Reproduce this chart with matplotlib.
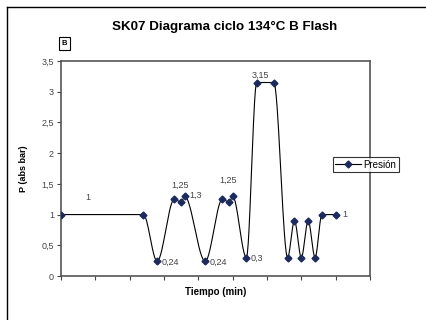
import numpy as np
import matplotlib
matplotlib.use("Agg")
import matplotlib.pyplot as plt
from matplotlib.lines import Line2D

plt.rcParams['font.family'] = ['Liberation Sans', 'DejaVu Sans']

# Tiempo (min) and presion (abs bar)
tiempo = [0, 2.4, 2.8, 3.3, 3.5, 3.6, 4.2, 4.7, 4.9, 5.0, 5.4, 5.7, 6.2,
          6.6, 6.8, 7.0, 7.2, 7.4, 7.6, 8.0]
presion = [1, 1, 0.24, 1.25, 1.2, 1.3, 0.24, 1.25, 1.2, 1.3, 0.3, 3.15, 3.15,
           0.3, 0.9, 0.3, 0.9, 0.3, 1, 1]

# data labels: (text, x, y)
etiquetas = [("1", 0.72, 1.27), ("0,24", 2.93, 0.22), ("1,25", 3.2, 1.48),
             ("1,3", 3.75, 1.32), ("0,24", 4.34, 0.22), ("1,25", 4.6, 1.55),
             ("0,3", 5.52, 0.28), ("3,15", 5.56, 3.27), ("1", 8.2, 1.0)]

yticks = [0, 0.5, 1, 1.5, 2, 2.5, 3, 3.5]
ytick_labels = ["0", "0,5", "1", "1,5", "2", "2,5", "3", "3,5"]


def pchip(x, y, n=30):
    # smooth line like the Excel "smoothed line" option
    x = np.asarray(x, float)
    y = np.asarray(y, float)
    h = np.diff(x)
    d = np.diff(y) / h
    m = np.zeros_like(y)
    for k in range(1, len(x) - 1):
        if d[k - 1] * d[k] > 0:
            w1 = 2 * h[k] + h[k - 1]
            w2 = h[k] + 2 * h[k - 1]
            m[k] = (w1 + w2) / (w1 / d[k - 1] + w2 / d[k])
    m[0] = d[0]
    m[-1] = d[-1]
    xs, ys = [], []
    for k in range(len(x) - 1):
        t = np.linspace(0, 1, n)
        h00 = 2 * t**3 - 3 * t**2 + 1
        h10 = t**3 - 2 * t**2 + t
        h01 = -2 * t**3 + 3 * t**2
        h11 = t**3 - t**2
        xs.append(x[k] + t * h[k])
        ys.append(h00 * y[k] + h10 * h[k] * m[k] + h01 * y[k + 1] + h11 * h[k] * m[k + 1])
    return np.concatenate(xs), np.concatenate(ys)


fig = plt.figure(figsize=(4.26, 3.2), dpi=100)

# outer chart area border (only left and top fall inside the picture)
fig.add_artist(Line2D([7 / 426, 7 / 426], [0, 1 - 7 / 320], color='black', lw=1))
fig.add_artist(Line2D([7 / 426, 1], [1 - 7 / 320, 1 - 7 / 320], color='black', lw=1))

ax = fig.add_axes([61 / 426, 1 - 276 / 320, 309 / 426, 215 / 320])

xs, ys = pchip(tiempo, presion)
ax.plot(xs, ys, color='black', lw=0.8, zorder=2)
ax.plot(tiempo, presion, linestyle='none', marker='D', markersize=3.5,
        color='#1c2a5e', markeredgecolor='#1c2a5e', zorder=3)

for txt, x, y in etiquetas:
    ax.text(x, y, txt, fontsize=6.5, color='#444444', ha='left', va='center')

ax.set_xlim(0, 9)
ax.set_ylim(0, 3.5)
ax.set_xticks(np.arange(0, 10, 1))
ax.set_xticklabels([])
ax.set_yticks(yticks)
ax.set_yticklabels(ytick_labels)
ax.tick_params(axis='both', direction='out', length=3, width=0.8, colors='#444444',
               labelsize=6.5, labelcolor='#444444', pad=2)
for s in ax.spines.values():
    s.set_color('#555555')
    s.set_linewidth(1.2)

ax.set_xlabel("Tiempo (min)", fontsize=7, fontweight='bold', labelpad=3)
ax.set_ylabel("P (abs bar)", fontsize=6.5, fontweight='bold', labelpad=10)

fig.text(225 / 426, 1 - 27 / 320, "SK07 Diagrama ciclo 134°C B Flash",
         fontsize=9.6, fontweight='bold', ha='center', va='center')
fig.text(64.5 / 426, 1 - 43.5 / 320, "B", fontsize=5.5, fontweight='bold',
         ha='center', va='center',
         bbox=dict(boxstyle='square,pad=0.35', fc='white', ec='black', lw=0.8))

handle = Line2D([], [], color='black', lw=0.8, marker='D', markersize=3.5,
                markerfacecolor='#1c2a5e', markeredgecolor='#1c2a5e')
leg = fig.legend([handle], ["Presión"], loc='center',
                 bbox_to_anchor=(366 / 426, 1 - 164.5 / 320), fontsize=7,
                 frameon=True, fancybox=False, handlelength=2.6, handletextpad=0.3,
                 borderpad=0.3, borderaxespad=0)
leg.get_frame().set_edgecolor('black')
leg.get_frame().set_linewidth(0.8)

fig.savefig("out.png", dpi=100)
